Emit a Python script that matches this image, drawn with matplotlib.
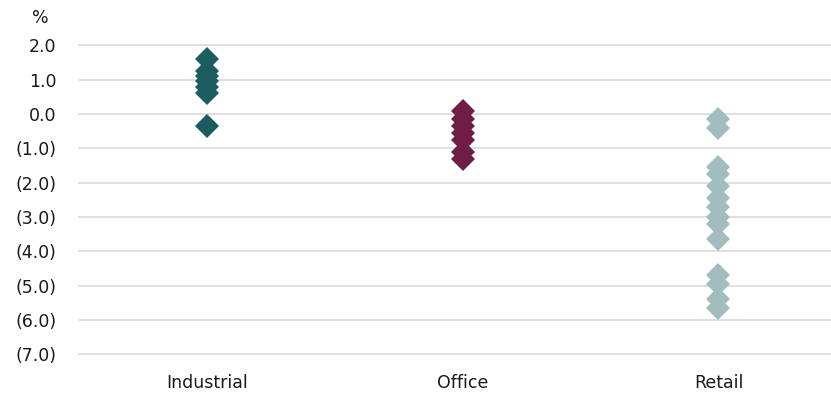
import numpy as np
import matplotlib.pyplot as plt

categories = ["Industrial", "Office", "Retail"]
industrial = [1.6, 1.25, 1.1, 0.95, 0.8, 0.6, -0.35]
office = [0.1, -0.15, -0.35, -0.55, -0.75, -1.1, -1.3]
retail = [-0.15, -0.4, -1.55, -1.75, -2.1, -2.45, -2.7, -3.0, -3.2, -3.65,
          -4.7, -4.95, -5.4, -5.65]
colors = ["#1b5c60", "#6d1d46", "#a2bdbe"]
yticks = [2, 1, 0, -1, -2, -3, -4, -5, -6, -7]

plt.rcParams['font.family'] = ['DejaVu Sans']

fig = plt.figure(figsize=(8.31, 3.95), dpi=100)
ax = fig.add_axes([0.095, 0.103, 0.905, 0.782])

for i, vals in enumerate([industrial, office, retail]):
    ax.plot([i] * len(vals), vals, linestyle="none", marker="D",
            markersize=12.7, color=colors[i], markeredgewidth=0, zorder=3)

def fmt(v):
    if v < 0:
        return "({:.1f})".format(-v)
    return "{:.1f}".format(v)

ax.set_ylim(-7, 2)
ax.set_yticks(yticks)
ax.set_yticklabels([fmt(v) for v in yticks], fontsize=12.5, color="#1a1a1a")
ax.set_xlim(-0.5, 2.44)
ax.set_xticks(range(len(categories)))
ax.set_xticklabels(categories, fontsize=12.5, color="#1a1a1a")
ax.tick_params(axis="y", length=0, pad=16)
ax.tick_params(axis="x", length=0, pad=14)
ax.grid(axis="y", color="#d9d9d9", linewidth=1.2)
ax.set_axisbelow(True)
for line in ax.get_ygridlines():
    line.set_clip_on(False)
for s in ax.spines.values():
    s.set_visible(False)

fig.text(40 / 831, 1 - 18 / 395, "%", fontsize=12.5, ha="center", va="center",
         color="#1a1a1a")

fig.savefig("out.png", dpi=100)
